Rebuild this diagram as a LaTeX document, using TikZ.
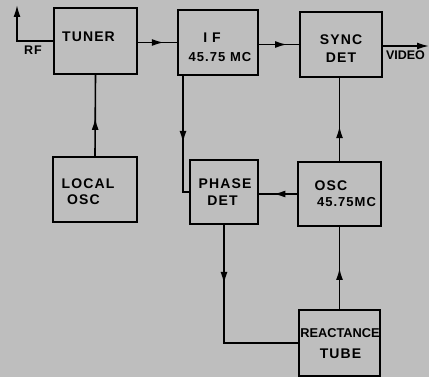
\documentclass[tikz,border=0pt]{standalone}
\usepackage{fontspec}
\setmainfont{Liberation Sans}
\newfontfamily\lblfont[LetterSpace=8]{Liberation Sans}
\usetikzlibrary{arrows.meta,decorations.markings}
\definecolor{paper}{RGB}{190,190,190}
\tikzset{
  blk/.style={draw=black, line width=1.8pt, rectangle, inner sep=0pt},
  lbl/.style={inner sep=0pt, anchor=center, font=\lblfont\bfseries\fontsize{14}{14}\selectfont},
  wire/.style={draw=black, line width=1.6pt},
  midarr/.style={postaction={decorate, decoration={markings, mark=at position #1 with {\arrow{Latex[length=12pt,width=7pt]}}}}},
  tip/.style={-{Latex[length=12pt,width=7pt]}}
}
\begin{document}
\begin{tikzpicture}[x=1pt,y=-1pt]
\fill[paper] (0,0) rectangle (429,377);
\useasboundingbox (0,0) rectangle (429,377);
% boxes
\node[blk, minimum width=83pt, minimum height=66pt] (tuner) at (95.5,41) {};
\node[blk, minimum width=80pt, minimum height=65pt] (if) at (218,42.5) {};
\node[blk, minimum width=82pt, minimum height=65pt] (sync) at (341,44.5) {};
\node[blk, minimum width=84pt, minimum height=65pt] (local) at (95,189.5) {};
\node[blk, minimum width=68pt, minimum height=64pt] (phase) at (224,192) {};
\node[blk, minimum width=83pt, minimum height=64pt] (osc) at (339.5,194) {};
\node[blk, minimum width=81pt, minimum height=66pt] (react) at (339.5,343) {};
% labels
\node[lbl] (tTuner) at (88.5,37) {TUNER};
\node[lbl, font=\lblfont\bfseries\fontsize{12.5}{12.5}\selectfont] (tRF) at (33,50.5) {RF};
\node[lbl] (tIF) at (212,38) {I F};
\node[lbl, font=\lblfont\bfseries\fontsize{13}{13}\selectfont] (tIFf) at (220,57.5) {45.75 MC};
\node[lbl] (tSync) at (341,40) {SYNC};
\node[lbl] (tSyncD) at (341,58) {DET};
\node[lbl, font=\bfseries\fontsize{12.5}{12.5}\selectfont] (tVideo) at (405.5,55) {VIDEO};
\node[lbl] (tLocal) at (88,183.5) {LOCAL};
\node[lbl] (tLocalO) at (83.5,199.5) {OSC};
\node[lbl] (tPhase) at (225,184) {PHASE};
\node[lbl] (tPhaseD) at (222.5,201) {DET};
\node[lbl] (tOsc) at (331,185.5) {OSC};
\node[lbl, font=\lblfont\bfseries\fontsize{13}{13}\selectfont] (tOscF) at (346.5,202.5) {45.75MC};
\node[lbl, font=\bfseries\fontsize{12.8}{12.8}\selectfont] (tReact) at (340,333) {REACTANCE};
\node[lbl] (tTube) at (340.5,354) {TUBE};
% free ends
\coordinate (rfTop) at (17,5);
\coordinate (rfCorner) at (17,41);
\coordinate (vidEnd) at (429,46);
\coordinate (ifDrop) at (183,75);
\coordinate (ifCorner) at (183,192);
\coordinate (phCorner) at (224,343);
% connectors
\draw[wire, tip] (tuner.west) -- (rfCorner) -- (rfTop);
\draw[wire, midarr=0.66] (tuner.east |- if.west) -- (if.west);
\draw[wire, midarr=0.7] (if.east |- sync.west) -- (sync.west);
\draw[wire, tip] (sync.east |- vidEnd) -- (vidEnd);
\draw[wire, midarr=0.47] (local.north) -- (tuner.south);
\draw[wire, midarr=0.42] (osc.north) -- (osc.north |- sync.south);
\draw[wire] (ifDrop) -- (ifCorner) -- (phase.west);
\draw[wire, midarr=0.58] (ifDrop) -- (ifCorner);
\draw[wire, midarr=0.62] (osc.west) -- (osc.west -| phase.east);
\draw[wire] (phase.south) -- (phCorner) -- (react.west);
\draw[wire, midarr=0.5] (phase.south) -- (phCorner);
\draw[wire, midarr=0.5] (react.north) -- (react.north |- osc.south);
\end{tikzpicture}
\end{document}
